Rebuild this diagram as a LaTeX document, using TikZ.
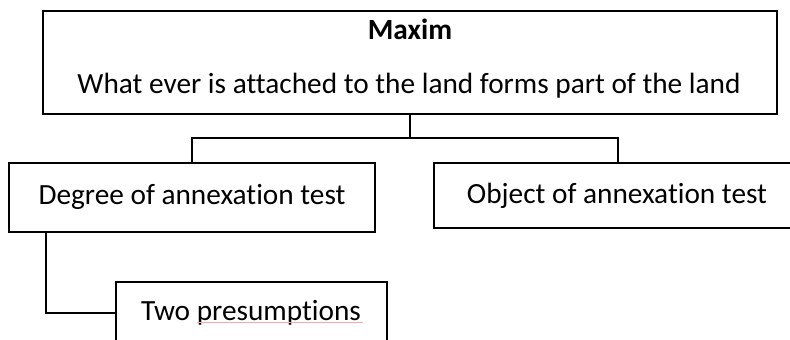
\documentclass[tikz,border=0pt]{standalone}
\usepackage{fontspec}
\setmainfont[Ligatures=CommonOff]{Carlito}
\begin{document}
\begin{tikzpicture}[x=1pt,y=-1pt,
  box/.style={draw=black,line width=2.4pt,rectangle,inner sep=0pt,outer sep=0pt},
  label/.style={anchor=base,inner sep=0pt,font=\fontsize{29.3}{34}\selectfont},
  link/.style={draw=black,line width=2.4pt}]
  \useasboundingbox (0,0) rectangle (790,340);
  \clip (0,0) rectangle (790,340);

  % boxes
  \node[box,minimum width=734pt,minimum height=103pt] (top) at (410,62.5) {};
  \node[box,minimum width=366pt,minimum height=69pt] (deg) at (192,197.5) {};
  \node[box,minimum width=368pt,minimum height=65pt] (obj) at (618,195.5) {};
  \node[box,minimum width=271pt,minimum height=62pt] (two) at (251.5,313) {};

  % texts
  \node[label,font=\fontsize{29.3}{34}\selectfont\bfseries] (maxim) at (410,39) {Maxim};
  \node[label] (rule) at (409,93) {What ever is attached to the land forms part of the land};
  \node[label] (degt) at (192,204) {Degree of annexation test};
  \node[label] (objt) at (617,203) {Object of annexation test};
  \node[label] (twot) at (251,320) {Two presumptions};

  % spell-check underline
  \draw[red!35,line width=0.8pt] (197,322.5) -- (363,322.5);

  % connectors
  \coordinate (hub) at (410,138);
  \coordinate (dtap) at (46,232);
  \draw[link] (top.south) -- (hub);
  \draw[link] (deg.north) |- (hub) -| (obj.north);
  \draw[link] (dtap) |- (two.west);
\end{tikzpicture}
\end{document}
